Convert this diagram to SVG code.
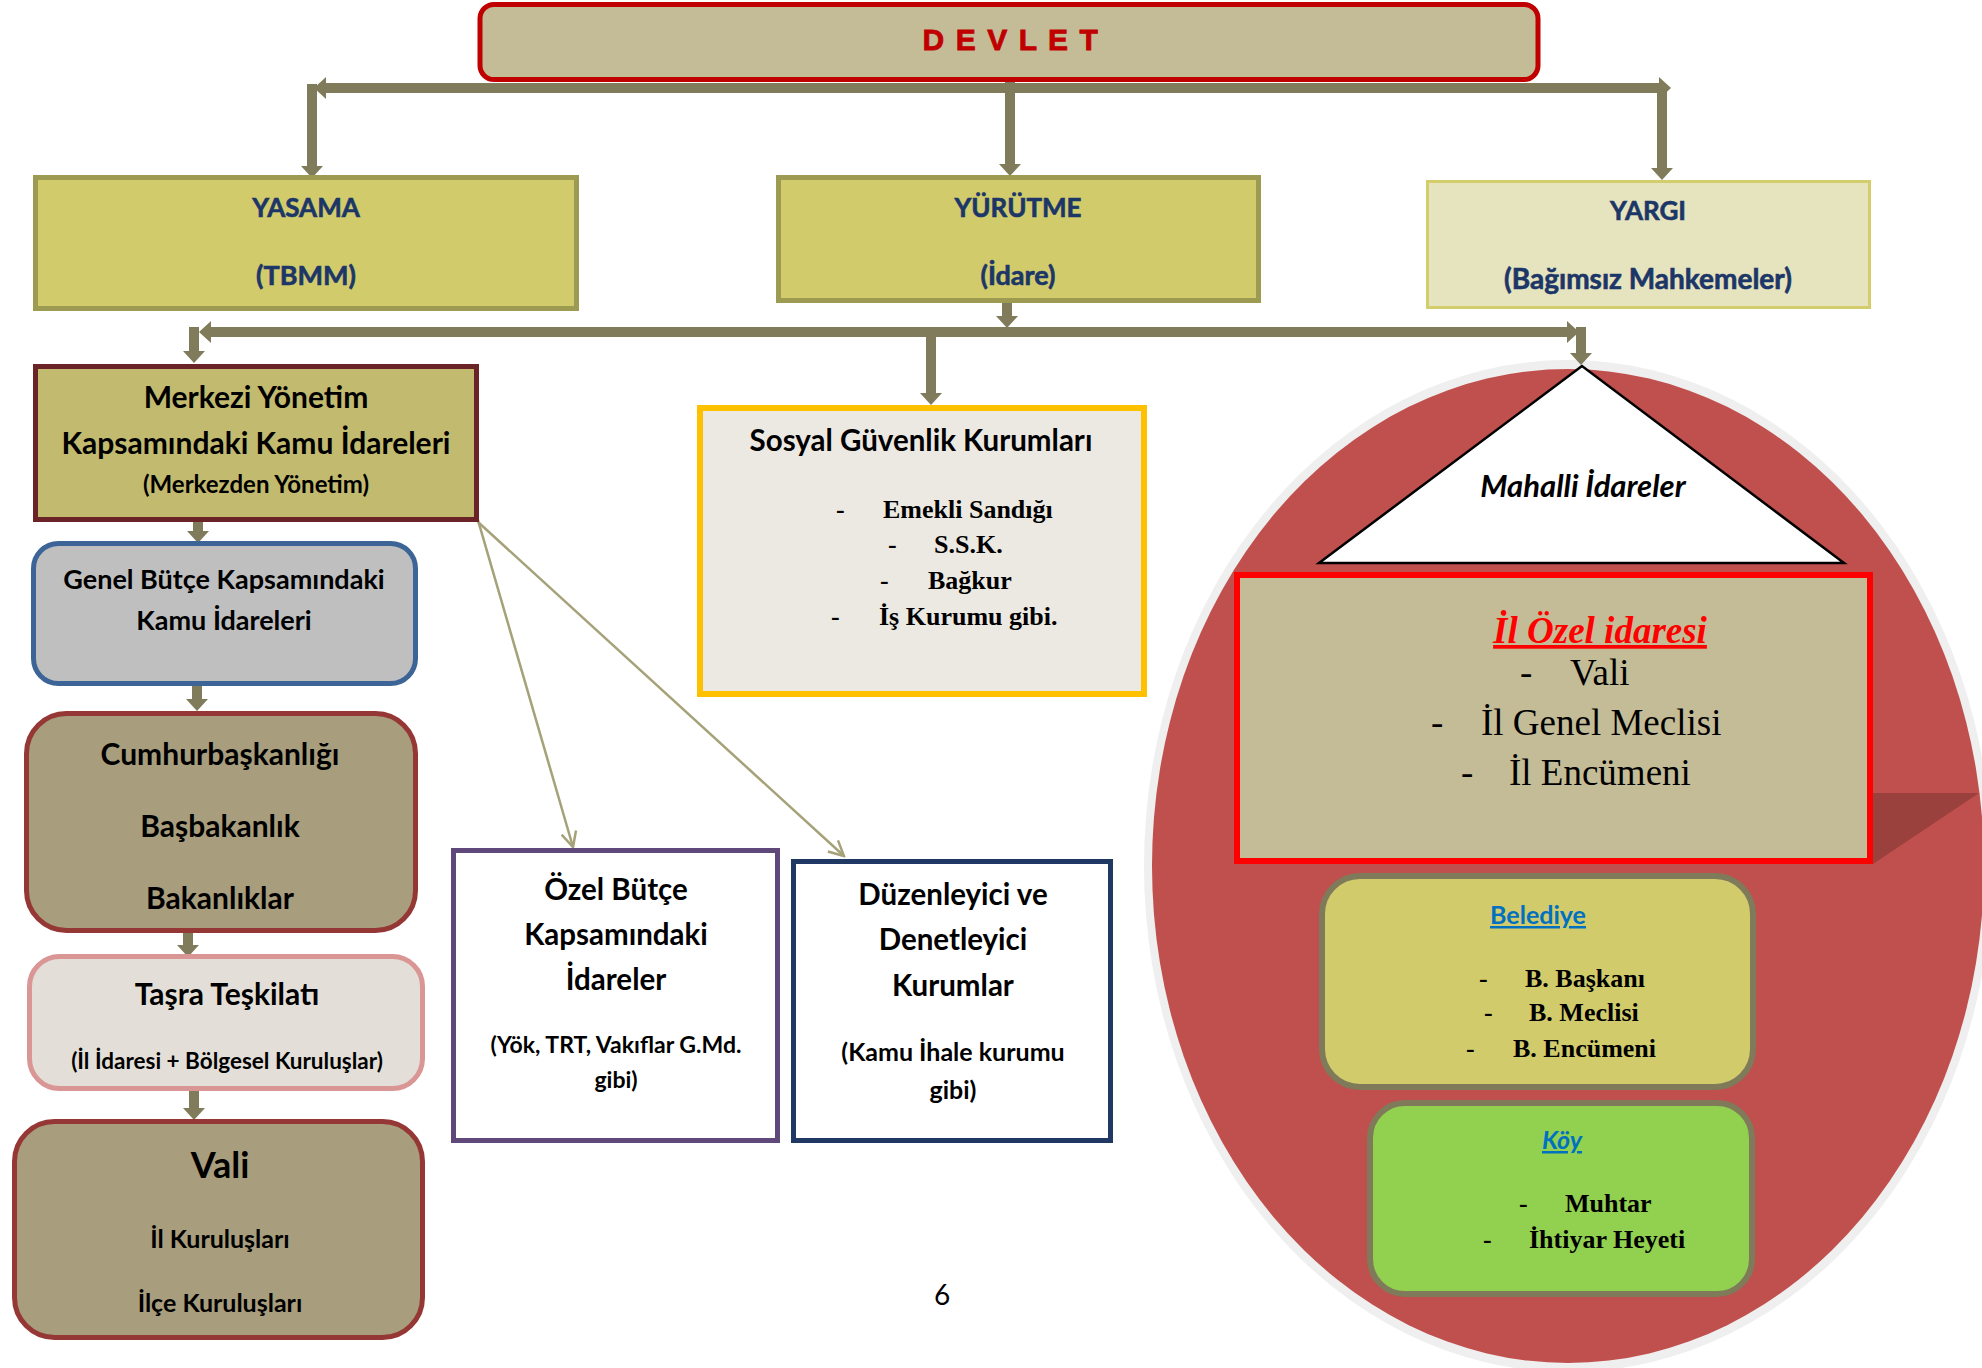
<svg xmlns="http://www.w3.org/2000/svg" width="1982" height="1368" viewBox="0 0 1982 1368">
<defs>
<style>
.sb{font-family:Lato,"Open Sans","Liberation Sans",sans-serif;font-weight:700;text-anchor:middle;fill:#000}
.nv{fill:#1b3667;stroke:#1b3667;stroke-width:0.6}
.sr{font-family:"Liberation Serif","Times New Roman",serif;fill:#000}
.bd{font-weight:700}
.red{fill:#ff0000}
.blue{fill:#0070c0}
.thick{stroke:#7f7b5b;stroke-width:10;fill:none;marker-end:url(#ah)}
.thin{stroke:#a5a178;stroke-width:2.5;fill:none;marker-end:url(#oh)}
</style>
<marker id="ah" viewBox="0 0 12 22" refX="0" refY="11" markerWidth="12" markerHeight="22" markerUnits="userSpaceOnUse" orient="auto">
<path d="M0,0 L12,11 L0,22 Z" fill="#7f7b5b"/>
</marker>
<marker id="oh" viewBox="0 0 18 18" refX="16" refY="9" markerWidth="18" markerHeight="18" markerUnits="userSpaceOnUse" orient="auto">
<path d="M1,1.5 L16,9 L1,16.5" fill="none" stroke="#a5a178" stroke-width="2.5"/>
</marker>
</defs>
<rect width="1982" height="1368" fill="#fff"/>

<g id="mahalli-bg">
<ellipse cx="1568" cy="866" rx="424" ry="506" fill="#efefef"/>
<ellipse cx="1568" cy="866" rx="416" ry="497" fill="#c0504d"/>
<polygon points="1873,793 1979,793 1873,864" fill="#9a403d"/>
</g>

<g id="connectors">
<line class="thick" x1="1010" y1="88" x2="326" y2="88"/>
<line class="thick" x1="1010" y1="88" x2="1659" y2="88"/>
<line class="thick" x1="312" y1="84" x2="312" y2="166"/>
<line class="thick" x1="1010" y1="80" x2="1010" y2="164"/>
<line class="thick" x1="1662" y1="84" x2="1662" y2="168"/>
<line class="thick" x1="1007" y1="332" x2="211" y2="332"/>
<line class="thick" x1="1007" y1="332" x2="1567" y2="332"/>
<line class="thick" x1="1007" y1="303" x2="1007" y2="316"/>
<line class="thick" x1="194" y1="327" x2="194" y2="351"/>
<line class="thick" x1="1581" y1="327" x2="1581" y2="353"/>
<line class="thick" x1="931" y1="337" x2="931" y2="393"/>
<line class="thick" x1="198" y1="521" x2="198" y2="531"/>
<line class="thick" x1="197" y1="685" x2="197" y2="699"/>
<line class="thick" x1="188" y1="931" x2="188" y2="945"/>
<line class="thick" x1="194" y1="1089" x2="194" y2="1108"/>
<line class="thin" x1="473" y1="503" x2="573" y2="847"/>
<line class="thin" x1="478" y1="522" x2="844" y2="856"/>
</g>

<g id="devlet">
<rect x="480" y="4.5" width="1058" height="75" rx="14" fill="#c4bc96" stroke="#c00000" stroke-width="5"/>
<text x="1011" y="50" font-family="'Liberation Sans',Arial,sans-serif" font-weight="700" font-size="30" fill="#c00000" text-anchor="middle" letter-spacing="1.6" stroke="#c00000" stroke-width="0.8">D E V L E T</text>
</g>

<g id="yasama">
<rect x="35.5" y="177.5" width="541" height="131" fill="#d2cb6c" stroke="#9d9a52" stroke-width="5"/>
<text class="sb nv" x="306" y="217" font-size="26">YASAMA</text>
<text class="sb nv" x="306" y="285" font-size="27">(TBMM)</text>
</g>

<g id="yurutme">
<rect x="778.5" y="177.5" width="480" height="123" fill="#d2cb6c" stroke="#9d9a52" stroke-width="5"/>
<text class="sb nv" x="1018" y="217" font-size="26">YÜRÜTME</text>
<text class="sb nv" x="1018" y="285" font-size="27">(İdare)</text>
</g>

<g id="yargi">
<rect x="1427.5" y="181.5" width="442" height="126" fill="#e6e3bf" stroke="#d4cd6c" stroke-width="3"/>
<text class="sb nv" x="1648" y="220" font-size="26">YARGI</text>
<text class="sb nv" x="1648" y="289" font-size="28">(Bağımsız Mahkemeler)</text>
</g>

<g id="merkezi">
<rect x="35.5" y="366.5" width="441" height="153" fill="#c2ba6f" stroke="#6a2427" stroke-width="5"/>
<text class="sb" x="256" y="408" font-size="30">Merkezi Yönetim</text>
<text class="sb" x="256" y="454" font-size="30">Kapsamındaki Kamu İdareleri</text>
<text class="sb" x="256" y="493" font-size="24">(Merkezden Yönetim)</text>
</g>

<g id="genel-butce">
<rect x="33.5" y="543.5" width="382" height="140" rx="25" fill="#bfbfbf" stroke="#3d6497" stroke-width="5"/>
<text class="sb" x="224" y="589" font-size="27">Genel Bütçe Kapsamındaki</text>
<text class="sb" x="224" y="630" font-size="27">Kamu İdareleri</text>
</g>

<g id="cumhurbaskanligi">
<rect x="26.5" y="713.5" width="389" height="217" rx="40" fill="#a89d7c" stroke="#953735" stroke-width="5"/>
<text class="sb" x="220" y="765" font-size="30">Cumhurbaşkanlığı</text>
<text class="sb" x="220" y="837" font-size="30">Başbakanlık</text>
<text class="sb" x="220" y="909" font-size="30">Bakanlıklar</text>
</g>

<g id="tasra">
<rect x="29.5" y="956.5" width="393" height="132" rx="30" fill="#e3dfd8" stroke="#d99694" stroke-width="5"/>
<text class="sb" x="227" y="1005" font-size="30">Taşra Teşkilatı</text>
<text class="sb" x="227" y="1069" font-size="22.5">(İl İdaresi + Bölgesel Kuruluşlar)</text>
</g>

<g id="vali">
<rect x="14.5" y="1121.5" width="408" height="216" rx="40" fill="#a89d7c" stroke="#953735" stroke-width="5"/>
<text class="sb" x="220" y="1178" font-size="36">Vali</text>
<text class="sb" x="220" y="1248" font-size="25">İl Kuruluşları</text>
<text class="sb" x="220" y="1312" font-size="25">İlçe Kuruluşları</text>
</g>

<g id="ozel-butce">
<rect x="453.5" y="850.5" width="324" height="290" fill="#fff" stroke="#5f497a" stroke-width="5"/>
<text class="sb" x="616" y="900" font-size="29.5">Özel Bütçe</text>
<text class="sb" x="616" y="945" font-size="29.5">Kapsamındaki</text>
<text class="sb" x="616" y="990" font-size="29.5">İdareler</text>
<text class="sb" x="616" y="1053" font-size="23">(Yök, TRT, Vakıflar G.Md.</text>
<text class="sb" x="616" y="1088" font-size="23">gibi)</text>
</g>

<g id="duzenleyici">
<rect x="793.5" y="861.5" width="317" height="279" fill="#fff" stroke="#1f3864" stroke-width="5"/>
<text class="sb" x="953" y="905" font-size="29.5">Düzenleyici ve</text>
<text class="sb" x="953" y="950" font-size="29.5">Denetleyici</text>
<text class="sb" x="953" y="996" font-size="29.5">Kurumlar</text>
<text class="sb" x="953" y="1061" font-size="25">(Kamu İhale kurumu</text>
<text class="sb" x="953" y="1099" font-size="25">gibi)</text>
</g>

<g id="sosyal-guvenlik">
<rect x="700" y="408" width="444" height="286" fill="#ece9e2" stroke="#ffc000" stroke-width="6"/>
<text class="sb" x="921" y="451" font-size="29.5">Sosyal Güvenlik Kurumları</text>
<g class="sr bd" font-size="26">
<text x="836" y="518">-</text><text x="883" y="518">Emekli Sandığı</text>
<text x="888" y="553">-</text><text x="934" y="553">S.S.K.</text>
<text x="880" y="589">-</text><text x="928" y="589">Bağkur</text>
<text x="831" y="625">-</text><text x="879" y="625">İş Kurumu gibi.</text>
</g>
</g>

<g id="mahalli-idareler">
<polygon points="1582,366 1319,563 1844,563" fill="#fff" stroke="#000" stroke-width="2.5" stroke-linejoin="miter"/>
<text class="sb" x="1583" y="497" font-size="31" font-style="italic">Mahalli İdareler</text>
</g>

<g id="il-ozel-idaresi">
<rect x="1237" y="575" width="633" height="286" fill="#c4bc96" stroke="#ff0000" stroke-width="6"/>
<text class="sr red" x="1600" y="643" font-size="37" font-weight="700" font-style="italic" text-anchor="middle" text-decoration="underline">İl Özel idaresi</text>
<g class="sr" font-size="37">
<text x="1520" y="685">-</text><text x="1570" y="685">Vali</text>
<text x="1431" y="735">-</text><text x="1481" y="735">İl Genel Meclisi</text>
<text x="1461" y="785">-</text><text x="1509" y="785">İl Encümeni</text>
</g>
</g>

<g id="belediye">
<rect x="1322" y="876" width="431" height="211" rx="38" fill="#d2cb6c" stroke="#7f7a5a" stroke-width="6"/>
<text class="sb blue" x="1538" y="924" font-size="25" text-decoration="underline">Belediye</text>
<g class="sr bd" font-size="26">
<text x="1479" y="987">-</text><text x="1525" y="987">B. Başkanı</text>
<text x="1484" y="1021">-</text><text x="1529" y="1021">B. Meclisi</text>
<text x="1466" y="1057">-</text><text x="1513" y="1057">B. Encümeni</text>
</g>
</g>

<g id="koy">
<rect x="1370" y="1103" width="382" height="191" rx="35" fill="#92d050" stroke="#7f7a5a" stroke-width="6"/>
<text class="sb blue" x="1562" y="1149" font-size="25" font-style="italic" text-decoration="underline">Köy</text>
<g class="sr bd" font-size="26">
<text x="1519" y="1212">-</text><text x="1565" y="1212">Muhtar</text>
<text x="1483" y="1248">-</text><text x="1529" y="1248">İhtiyar Heyeti</text>
</g>
</g>

<text x="942" y="1305" font-family="Lato,'Open Sans',sans-serif" font-size="28" text-anchor="middle" fill="#000">6</text>
</svg>
